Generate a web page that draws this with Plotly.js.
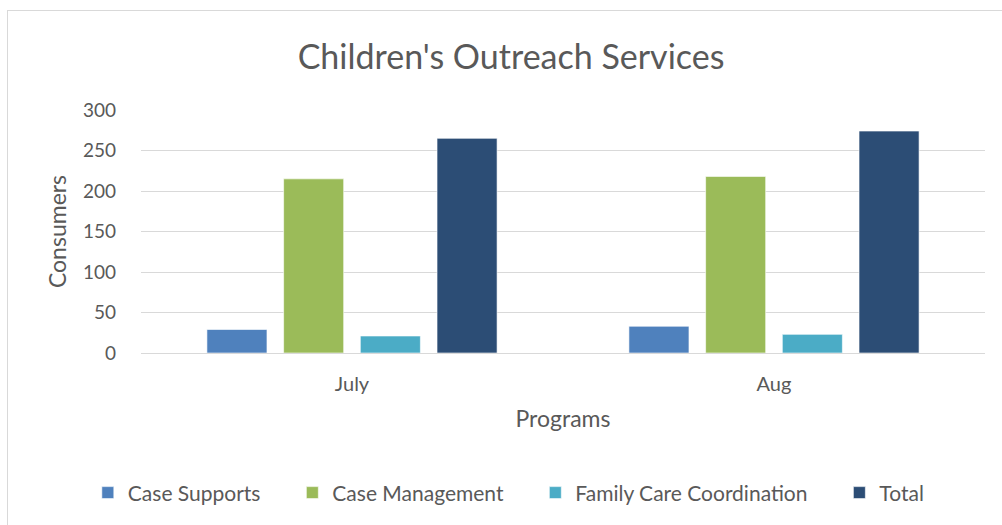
<!DOCTYPE html>
<html>
<head>
<meta charset="utf-8">
<script src="https://cdn.plot.ly/plotly-3.0.1.min.js"></script>
<style>
html,body{margin:0;padding:0;background:#fff;}
#wrap{position:relative;width:1002px;height:525px;overflow:hidden;}
#chart{position:absolute;left:0;top:0;width:1002px;height:525px;}
#frame{position:absolute;left:7px;top:10px;width:1100px;height:600px;border-left:1.5px solid #d9d9d9;border-top:1.5px solid #d9d9d9;pointer-events:none;}
</style>
</head>
<body>
<div id="wrap"><div id="chart"></div><div id="frame"></div></div>
<script>
const categories = ["July", "Aug"];
const seriesNames = ["Case Supports", "Case Management", "Family Care Coordination", "Total"];
const caseSupports = [29, 33];
const caseManagement = [215, 218];
const familyCareCoordination = [21, 23];
const total = [265, 274];
const yTicks = [0, 50, 100, 150, 200, 250, 300];

const colors = ["#4F81BD", "#9BBB59", "#4BACC6", "#2C4D75"];
const values = [caseSupports, caseManagement, familyCareCoordination, total];
const FONT = "Lato, Open Sans, sans-serif";
const PAD = "\u00a0\u00a0\u00a0\u00a0\u00a0";

const data = values.map((v, i) => ({
  type: "bar",
  name: seriesNames[i] + (i < values.length - 1 ? PAD : ""),
  x: categories,
  y: v,
  marker: {color: colors[i], line: {color: "rgba(255,255,255,0.6)", width: 1}},
  hoverinfo: "x+y+name"
}));

const layout = {
  width: 1002,
  height: 525,
  margin: {l: 141, r: 17, t: 110, b: 172},
  paper_bgcolor: "#ffffff",
  plot_bgcolor: "#ffffff",
  font: {family: FONT, color: "#595959", size: 19},
  title: {text: "Children's Outreach Services", font: {family: FONT, size: 34, color: "#595959"}, x: 0.51, xanchor: "center", y: 0.891, yanchor: "middle"},
  barmode: "group",
  bargap: 0.273,
  bargroupgap: 0.217,
  xaxis: {
    title: {text: "Programs", font: {size: 23, color: "#595959"}, standoff: 16},
    tickfont: {size: 20, color: "#595959"},
    showgrid: false,
    showline: true,
    linecolor: "#d9d9d9",
    linewidth: 1,
    ticks: "",
    ticklabelstandoff: 13
  },
  yaxis: {
    title: {text: "Consumers", font: {size: 23, color: "#595959"}, standoff: 9},
    range: [0, 300],
    tickvals: yTicks,
    ticktext: yTicks.map(String),
    tickfont: {size: 19, color: "#595959"},
    showgrid: true,
    gridcolor: "#d9d9d9",
    gridwidth: 1,
    zeroline: false,
    ticks: "",
    ticklabelstandoff: 24
  },
  legend: {
    orientation: "h",
    x: -0.063, xanchor: "left",
    y: -0.576, yanchor: "middle",
    font: {size: 21, color: "#595959"},
    itemwidth: 30,
    traceorder: "normal"
  },
  showlegend: true
};

Plotly.newPlot("chart", data, layout, {displayModeBar: false, staticPlot: true});
</script>
</body>
</html>
